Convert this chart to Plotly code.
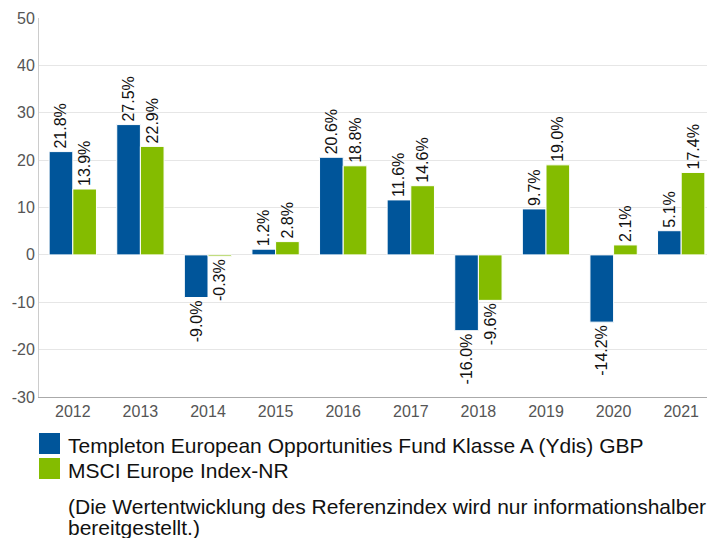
import plotly.graph_objects as go

years = ["2012", "2013", "2014", "2015", "2016", "2017", "2018", "2019", "2020", "2021"]
fund = [21.8, 27.5, -9.0, 1.2, 20.6, 11.6, -16.0, 9.7, -14.2, 5.1]
index = [13.9, 22.9, -0.3, 2.8, 18.8, 14.6, -9.6, 19.0, 2.1, 17.4]
names = ["Templeton European Opportunities Fund Klasse A (Ydis) GBP", "MSCI Europe Index-NR"]
note_lines = ["(Die Wertentwicklung des Referenzindex wird nur informationshalber", "bereitgestellt.)"]
yticks = [-30, -20, -10, 0, 10, 20, 30, 40, 50]
colors = ["#00559A", "#84BC00"]

FONT = "Liberation Sans, Arial, sans-serif"
OFF = 8  # page body margin
W, H = 715 - OFF, 538 - OFF
# page-pixel layout of the plot area
L, T, B = 39, 18, 397
ml, mr, mt, mb = L - OFF, 0, T - OFF, 538 - B
pw, ph = W - ml - mr, H - mt - mb

def px(x):
    return (x - L) / pw

def py(y):
    return (B - y) / ph

fig = go.Figure()
for vals, name, c in zip([fund, index], names, colors):
    fig.add_trace(go.Bar(
        x=years, y=vals, name=name, marker=dict(color=c, line=dict(color="white", width=1)),
        texttemplate="%{y:.1f}%", textposition="outside", textangle=-90,
        constraintext="none",
        textfont=dict(family=FONT, size=16, color="#111"), cliponaxis=False,
        showlegend=False,
    ))

shapes = []
annotations = []
for i, (name, c) in enumerate(zip(names, colors)):
    top = 433 + i * 25
    shapes.append(dict(type="rect", xref="paper", yref="paper",
                       x0=px(39), x1=px(60), y0=py(top + 21), y1=py(top),
                       fillcolor=c, line=dict(width=0)))
    annotations.append(dict(xref="paper", yref="paper", x=px(66), y=py(top + 12),
                            text=name, showarrow=False, xanchor="left", yanchor="middle",
                            font=dict(family=FONT, size=21, color="#111")))
for j, line in enumerate(note_lines):
    annotations.append(dict(xref="paper", yref="paper", x=px(66), y=py(507 + j * 20),
                            text=line, showarrow=False, xanchor="left", yanchor="middle",
                            font=dict(family=FONT, size=21, color="#111")))

fig.update_layout(
    width=W, height=H, margin=dict(l=ml, r=mr, t=mt, b=mb, autoexpand=False),
    paper_bgcolor="white", plot_bgcolor="white",
    barmode="group", bargap=0.3, bargroupgap=0.0,
    font=dict(family=FONT),
    shapes=shapes, annotations=annotations,
    xaxis=dict(showline=True, linecolor="#aaaaaa", linewidth=1, ticks="", automargin=False,
               tickfont=dict(family=FONT, size=16, color="#555")),
    yaxis=dict(range=[-30, 50], tickvals=yticks, ticktext=[str(v) for v in yticks],
               showline=True, linecolor="#cccccc", linewidth=1, automargin=False,
               gridcolor="#e6e6e6", zeroline=False, ticks="", ticklen=0,
               tickfont=dict(family=FONT, size=16, color="#555")),
)
fig.write_html("out.html")
